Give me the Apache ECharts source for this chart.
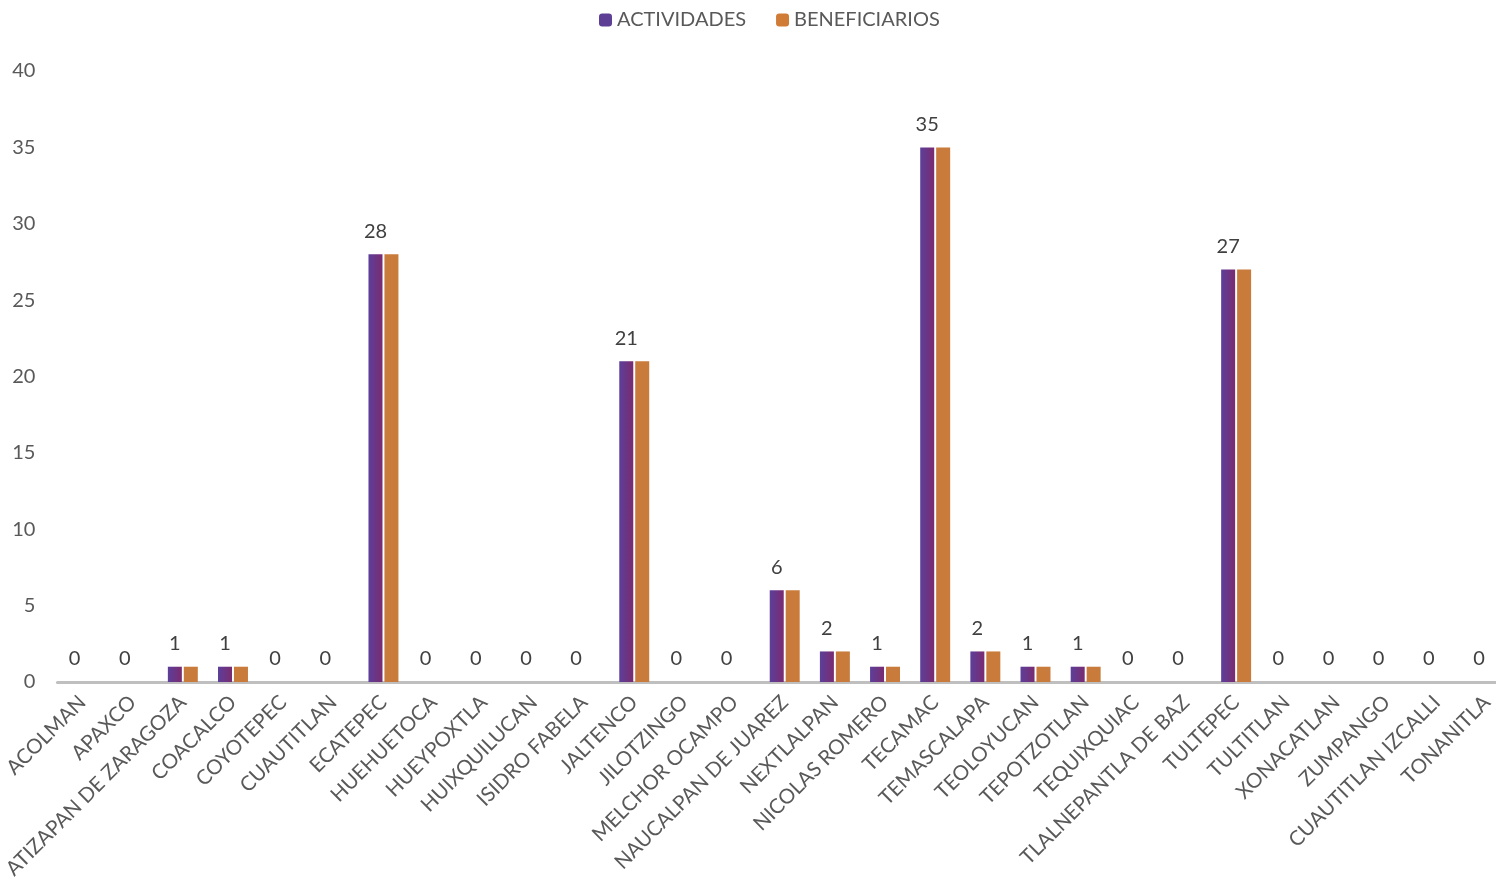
<!DOCTYPE html>
<html><head><meta charset="utf-8">
<script src="https://cdn.jsdelivr.net/npm/echarts@6/dist/echarts.min.js"></script>
<style>html,body{margin:0;padding:0;background:#fff;overflow:hidden;width:1496px;height:883px}#c{width:1512px;height:883px}</style>
</head><body><div id="c"></div>
<script>
const categories = ["ACOLMAN","APAXCO","ATIZAPAN DE ZARAGOZA","COACALCO","COYOTEPEC","CUAUTITLAN","ECATEPEC","HUEHUETOCA","HUEYPOXTLA","HUIXQUILUCAN","ISIDRO FABELA","JALTENCO","JILOTZINGO","MELCHOR OCAMPO","NAUCALPAN DE JUAREZ","NEXTLALPAN","NICOLAS ROMERO","TECAMAC","TEMASCALAPA","TEOLOYUCAN","TEPOTZOTLAN","TEQUIXQUIAC","TLALNEPANTLA DE BAZ","TULTEPEC","TULTITLAN","XONACATLAN","ZUMPANGO","CUAUTITLAN IZCALLI","TONANITLA"];
const actividades = [0,0,1,1,0,0,28,0,0,0,0,21,0,0,6,2,1,35,2,1,1,0,0,27,0,0,0,0,0];
const beneficiarios = [0,0,1,1,0,0,28,0,0,0,0,21,0,0,6,2,1,35,2,1,1,0,0,27,0,0,0,0,0];
const yTicks = [0,5,10,15,20,25,30,35,40];
const font = 'Lato, "Open Sans", sans-serif';
const chart = echarts.init(document.getElementById('c'));
chart.setOption({
  animation:false,
  textStyle:{fontFamily:font},
  legend:{top:5,left:594,itemWidth:13,itemHeight:13,itemGap:30,
    textStyle:{fontSize:20,color:'#595959',fontFamily:font},
    data:[{name:'ACTIVIDADES',itemStyle:{color:'#5e3f96'}},{name:'BENEFICIARIOS',itemStyle:{color:'#d07c36'}}]},
  grid:{left:57,top:71,right:0,height:611,containLabel:false},
  xAxis:{type:'category',data:categories,
    axisLine:{lineStyle:{color:'#bfbfbf',width:3}},axisTick:{show:false},
    axisLabel:{rotate:45,interval:0,fontSize:20.5,color:'#595959',margin:17,fontFamily:font}},
  yAxis:{type:'value',min:0,max:40,interval:5,
    axisLine:{show:false},axisTick:{show:false},splitLine:{show:false},
    axisLabel:{fontSize:20,color:'#595959',margin:22,fontFamily:font,
      formatter:v=>yTicks.includes(v)?String(v):''}},
  series:[
    {name:'ACTIVIDADES',type:'bar',data:actividades,barWidth:14,barGap:'14%',
     itemStyle:{color:new echarts.graphic.LinearGradient(0,0,1,0,[{offset:0,color:'#5c3f9a'},{offset:1,color:'#7a2b70'}])},
     label:{show:true,position:'top',distance:13,fontSize:20,color:'#404040',fontFamily:font}},
    {name:'BENEFICIARIOS',type:'bar',data:beneficiarios,barWidth:14,
     itemStyle:{color:'#c97b3b'}}
  ]
});
</script></body></html>
